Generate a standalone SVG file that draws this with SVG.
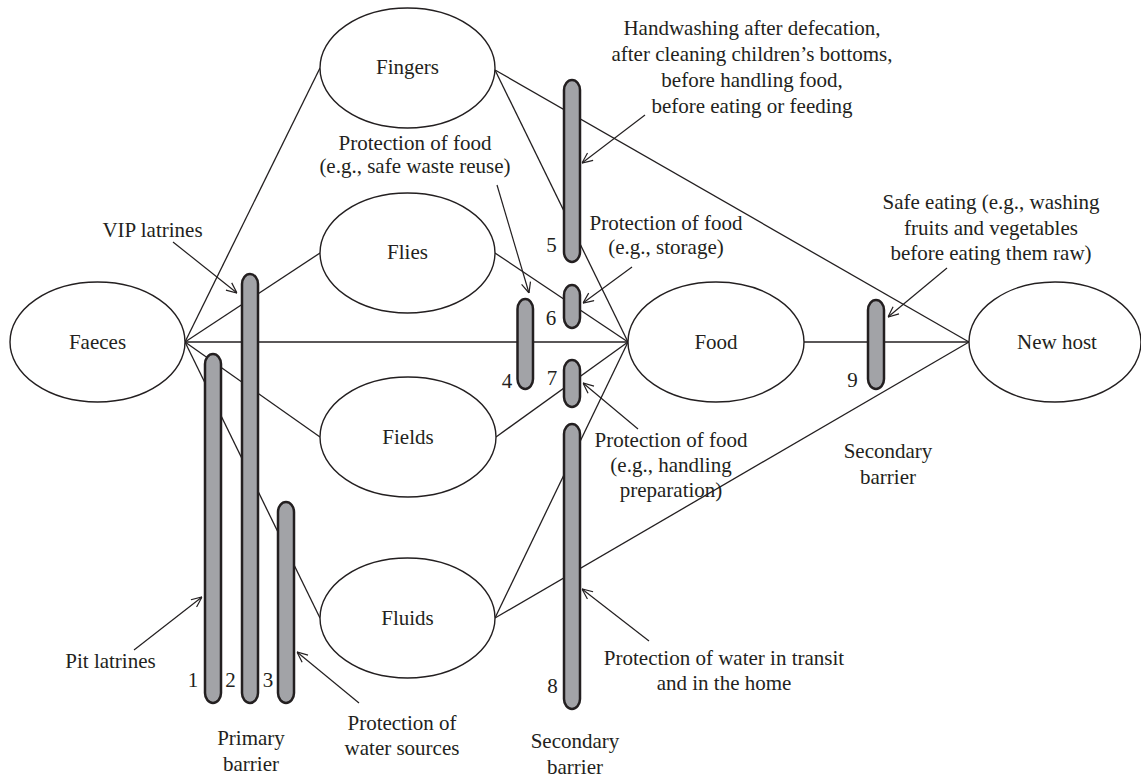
<svg xmlns="http://www.w3.org/2000/svg" width="1141" height="780" viewBox="0 0 1141 780">
<style>
  .node ellipse { fill: #ffffff; stroke: #231f20; stroke-width: 1.4; }
  text { font-family: "Liberation Serif", "Times New Roman", serif; font-size: 21px; fill: #231f20; }
  .c { text-anchor: middle; }
  .conn line { stroke: #231f20; stroke-width: 1.3; }
  .bar { fill: #a2a3a7; stroke: #231f20; stroke-width: 2.5; }
  .ptr line { stroke: #231f20; stroke-width: 1.2; marker-end: url(#open); }
</style>
<defs>
  <marker id="open" viewBox="0 0 10 10" refX="10" refY="5" markerWidth="11" markerHeight="11" markerUnits="userSpaceOnUse" orient="auto">
    <path d="M0.5,0.8 L10,5 L0.5,9.2" fill="none" stroke="#231f20" stroke-width="1.1"/>
  </marker>
</defs>
<rect x="0" y="0" width="1141" height="780" fill="#ffffff"/>

<g id="connectors" class="conn">
  <line x1="185" y1="342" x2="320" y2="68"/>
  <line x1="185" y1="342" x2="320" y2="253"/>
  <line x1="185" y1="342" x2="628" y2="342"/>
  <line x1="185" y1="342" x2="320" y2="437"/>
  <line x1="185" y1="342" x2="320" y2="618"/>
  <line x1="495" y1="70" x2="628" y2="342"/>
  <line x1="495" y1="70" x2="969" y2="342"/>
  <line x1="495" y1="253" x2="628" y2="342"/>
  <line x1="496" y1="437" x2="628" y2="342"/>
  <line x1="495" y1="618" x2="628" y2="342"/>
  <line x1="495" y1="618" x2="969" y2="342"/>
  <line x1="804" y1="342" x2="969" y2="342"/>
</g>

<g id="faeces" class="node"><ellipse cx="97.5" cy="342" rx="87.5" ry="60"/><text class="c" x="97.5" y="349">Faeces</text></g>
<g id="fingers" class="node"><ellipse cx="407.5" cy="68" rx="87.5" ry="60"/><text class="c" x="407.5" y="74">Fingers</text></g>
<g id="flies" class="node"><ellipse cx="407.5" cy="253" rx="87.5" ry="60"/><text class="c" x="407.5" y="259">Flies</text></g>
<g id="fields" class="node"><ellipse cx="408" cy="437" rx="88" ry="60"/><text class="c" x="408" y="444">Fields</text></g>
<g id="fluids" class="node"><ellipse cx="407.5" cy="618" rx="87.5" ry="60"/><text class="c" x="407.5" y="625">Fluids</text></g>
<g id="food" class="node"><ellipse cx="716" cy="342" rx="88" ry="60"/><text class="c" x="716" y="349">Food</text></g>
<g id="newhost" class="node"><ellipse cx="1055" cy="342" rx="86" ry="60"/><text class="c" x="1057" y="349">New host</text></g>

<g id="barriers">
  <rect class="bar" x="205" y="354" width="16" height="349" rx="8" ry="10"/>
  <rect class="bar" x="242" y="274" width="16" height="429" rx="8" ry="10"/>
  <rect class="bar" x="278" y="502" width="16" height="201" rx="8" ry="10"/>
  <rect class="bar" x="517.5" y="299" width="15.5" height="90" rx="7.7" ry="10"/>
  <rect class="bar" x="564" y="80" width="16" height="182" rx="8" ry="10"/>
  <rect class="bar" x="564" y="285" width="16" height="43" rx="8" ry="10"/>
  <rect class="bar" x="564" y="360" width="16" height="47" rx="8" ry="10"/>
  <rect class="bar" x="564" y="424" width="16" height="285" rx="8" ry="10"/>
  <rect class="bar" x="868" y="300" width="16" height="89" rx="8" ry="10"/>
</g>

<g id="barrier-numbers">
  <text x="193" y="687" class="c">1</text>
  <text x="230.5" y="687" class="c">2</text>
  <text x="268" y="687" class="c">3</text>
  <text x="507" y="388" class="c">4</text>
  <text x="551.5" y="252" class="c">5</text>
  <text x="551" y="325" class="c">6</text>
  <text x="552" y="385" class="c">7</text>
  <text x="552.5" y="693" class="c">8</text>
  <text x="852.5" y="387" class="c">9</text>
</g>

<g id="pointers" class="ptr">
  <line x1="173" y1="242" x2="237" y2="293"/>
  <line x1="134" y1="650" x2="202" y2="597"/>
  <line x1="359" y1="703" x2="297" y2="652"/>
  <line x1="497" y1="185" x2="529" y2="293"/>
  <line x1="645" y1="115" x2="582" y2="163"/>
  <line x1="632" y1="267" x2="583" y2="303"/>
  <line x1="638" y1="429" x2="583" y2="383"/>
  <line x1="649" y1="641" x2="582" y2="589"/>
  <line x1="947" y1="268" x2="888" y2="317"/>
</g>

<g id="labels">
  <text x="152.5" y="237" class="c">VIP latrines</text>
  <text x="110.5" y="668" class="c">Pit latrines</text>
  <text class="c" x="402" y="730">Protection of</text>
  <text class="c" x="402" y="755">water sources</text>
  <text class="c" x="251" y="745">Primary</text>
  <text class="c" x="251" y="771">barrier</text>
  <text class="c" x="575" y="748">Secondary</text>
  <text class="c" x="575" y="774">barrier</text>
  <text class="c" x="888" y="458">Secondary</text>
  <text class="c" x="888" y="484">barrier</text>
  <text class="c" x="415" y="150">Protection of food</text>
  <text class="c" x="415" y="173">(e.g., safe waste reuse)</text>
  <text class="c" x="752" y="35">Handwashing after defecation,</text>
  <text class="c" x="752" y="61">after cleaning children’s bottoms,</text>
  <text class="c" x="752" y="87">before handling food,</text>
  <text class="c" x="752" y="113">before eating or feeding</text>
  <text class="c" x="666" y="230">Protection of food</text>
  <text class="c" x="666" y="254">(e.g., storage)</text>
  <text class="c" x="671" y="447">Protection of food</text>
  <text class="c" x="671" y="472">(e.g., handling</text>
  <text class="c" x="671" y="497">preparation)</text>
  <text class="c" x="724" y="665">Protection of water in transit</text>
  <text class="c" x="724" y="690">and in the home</text>
  <text class="c" x="991" y="209">Safe eating (e.g., washing</text>
  <text class="c" x="991" y="235">fruits and vegetables</text>
  <text class="c" x="991" y="260">before eating them raw)</text>
</g>
</svg>
